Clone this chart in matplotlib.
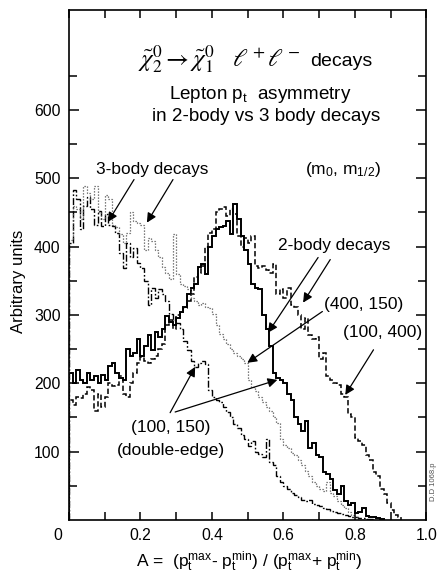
import numpy as np
import matplotlib
matplotlib.use("Agg")
import matplotlib.pyplot as plt
from matplotlib.transforms import ScaledTranslation

plt.rcParams['font.family'] = ['Liberation Sans', 'DejaVu Sans']
plt.rcParams['mathtext.fontset'] = 'custom'
plt.rcParams['mathtext.rm'] = 'Liberation Sans'
plt.rcParams['mathtext.it'] = 'Liberation Sans:italic'
plt.rcParams['mathtext.bf'] = 'Liberation Sans:bold'

# Histogram bins of the asymmetry A (width 0.01)
bin_width = 0.01

# 2-body decays, (m0, m1/2) = (100, 150)  -- solid
two_body_100_150 = [
    215, 200, 220, 205, 200, 215, 205, 210, 200, 212,
    205, 225, 230, 215, 208, 205, 250, 240, 245, 265,
    240, 255, 270, 248, 275, 268, 280, 298, 290, 285,
    295, 305, 312, 330, 340, 345, 370, 375, 360, 400,
    415, 425, 428, 430, 438, 418, 462, 440, 415, 395,
    375, 345, 340, 338, 300, 280, 255, 215, 208, 205,
    200, 185, 175, 150, 140, 130, 145, 105, 112, 95,
    92, 70, 68, 60, 44, 38, 50, 28, 22, 25,
    10, 12, 18, 6, 5, 4, 3, 2,
]

# 2-body decays, (m0, m1/2) = (100, 400)  -- dashed
two_body_100_400 = [
    175, 168, 180, 178, 185, 195, 190, 160, 185, 165,
    180, 200, 196, 198, 210, 185, 180, 200, 215, 230,
    238, 232, 230, 235, 240, 250, 258, 285, 292, 280,
    300, 305, 310, 320, 330, 355, 362, 372, 400, 420,
    425, 450, 455, 458, 445, 455, 448, 415, 400, 412,
    405, 415, 372, 368, 372, 365, 362, 375, 330, 338,
    325, 340, 315, 312, 300, 280, 295, 270, 265, 268,
    235, 245, 210, 205, 200, 198, 185, 180, 155, 150,
    120, 115, 110, 95, 88, 70, 65, 45, 38, 25,
    15, 8, 5,
]

# 3-body decays, (m0, m1/2) = (100, 150)  -- dash-dot
three_body_100_150 = [
    405, 483, 470, 425, 460, 472, 455, 432, 452, 430,
    448, 432, 430, 420, 390, 368, 405, 385, 398, 376,
    368, 350, 315, 340, 325, 338, 330, 320, 302, 292,
    288, 280, 262, 248, 232, 224, 230, 232, 228, 190,
    180, 175, 172, 165, 158, 150, 140, 135, 125, 118,
    108, 115, 100, 96, 92, 118, 85, 80, 65, 55,
    50, 46, 40, 36, 33, 30, 28, 29, 24, 22,
    20, 18, 16, 13, 12, 10, 9, 7, 6, 5,
    4, 3, 3, 2, 1,
]

# 3-body decays, (m0, m1/2) = (400, 150)  -- dotted
three_body_400_150 = [
    410, 460, 455, 440, 488, 478, 470, 488, 450, 440,
    475, 470, 432, 428, 418, 405, 420, 450, 438, 435,
    432, 395, 412, 408, 395, 385, 370, 362, 352, 418,
    360, 345, 342, 338, 325, 320, 315, 318, 312, 310,
    302, 285, 272, 265, 258, 250, 245, 240, 235, 230,
    205, 195, 188, 180, 172, 165, 160, 150, 142, 118,
    110, 105, 98, 95, 88, 80, 72, 65, 56, 50,
    45, 42, 55, 40, 35, 28, 22, 18, 12, 8,
    4,
]

x_ticks = [0.0, 0.2, 0.4, 0.6, 0.8, 1.0]
x_tick_labels = ['0', '0.2', '0.4', '0.6', '0.8', '1.0']
y_ticks = [100, 200, 300, 400, 500, 600]
y_tick_labels = ['100', '200', '300', '400', '500', '600']

fig = plt.figure(figsize=(4.38, 5.76), dpi=100)
ax = fig.add_axes([0.1575, 0.0972, 0.816, 0.8854])


def edges_for(values):
    return np.arange(len(values) + 1) * bin_width


ax.stairs(two_body_100_150, edges_for(two_body_100_150), color='black',
          lw=1.4, linestyle='-')
ax.stairs(two_body_100_400, edges_for(two_body_100_400), color='black',
          lw=1.1, linestyle=(0, (3.5, 1.8)))
ax.stairs(three_body_100_150, edges_for(three_body_100_150), color='black',
          lw=1.0, linestyle=(0, (5, 1.5, 1.2, 1.5)))
ax.stairs(three_body_400_150, edges_for(three_body_400_150), color='#555555',
          lw=0.9, linestyle=(0, (1, 1.4)))

ax.set_xlim(0, 1.0)
ax.set_ylim(0, 746)

ax.set_xticks(x_ticks)
ax.set_xticklabels(x_tick_labels)
ax.set_xticks(np.arange(0.1, 1.0, 0.2), minor=True)
ax.set_yticks(y_ticks)
ax.set_yticklabels(y_tick_labels)
ax.set_yticks(np.arange(50, 746, 100), minor=True)

ax.tick_params(which='both', direction='in', top=True, right=True,
               labelsize=11.3, width=1.1, pad=6)
ax.tick_params(which='major', length=7)
ax.tick_params(which='minor', length=6)
ax.tick_params(axis='x', which='both', length=6)
for side in ax.spines.values():
    side.set_linewidth(1.2)

# shift the shared origin label a little to the left
lbl0 = ax.get_xticklabels()[0]
lbl0.set_transform(lbl0.get_transform() + ScaledTranslation(-11 / 100, 0, fig.dpi_scale_trans))

# axis titles
ax.text(-0.14, 0.468, 'Arbitrary units', transform=ax.transAxes,
        rotation=90, ha='center', va='center', fontsize=12)
ax.text(0.505, -0.082,
        r'A =  (p$_\mathrm{t}^\mathrm{max}$- p$_\mathrm{t}^\mathrm{min}$) / '
        r'(p$_\mathrm{t}^\mathrm{max}$+ p$_\mathrm{t}^\mathrm{min}$)',
        transform=ax.transAxes, ha='center', va='center', fontsize=12.5)

# headline
ax.text(0.647, 664, r'$\tilde{\chi}^0_2 \rightarrow \tilde{\chi}^0_1\quad \ell^+\ell^-$',
        ha='right', va='baseline', fontsize=18, math_fontfamily='stix')
ax.text(0.675, 664, 'decays', ha='left', va='baseline', fontsize=14)
ax.text(0.535, 622, r'Lepton p$_\mathrm{t}$  asymmetry', ha='center', va='center',
        fontsize=13.6)
ax.text(0.552, 590, 'in 2-body vs 3 body decays', ha='center', va='center',
        fontsize=13.6)
ax.text(0.768, 512, r'(m$_0$, m$_{1/2}$)', ha='center', va='center', fontsize=12.5)

arrow_style = dict(arrowstyle='-|>', color='black', lw=0.9,
                   mutation_scale=14, shrinkA=0, shrinkB=0)

# 3-body labels
ax.text(0.234, 512, '3-body decays', ha='center', va='center', fontsize=12.4)
ax.annotate('', xy=(0.109, 436), xytext=(0.182, 498), arrowprops=arrow_style)
ax.annotate('', xy=(0.218, 435), xytext=(0.291, 498), arrowprops=arrow_style)

# 2-body labels
ax.text(0.742, 401, '2-body decays', ha='center', va='center', fontsize=12.4)
ax.annotate('', xy=(0.557, 274), xytext=(0.697, 384), arrowprops=arrow_style)
ax.annotate('', xy=(0.655, 318), xytext=(0.731, 381), arrowprops=arrow_style)

# mass point labels
ax.text(0.824, 315, '(400, 150)', ha='center', va='center', fontsize=12.5)
ax.annotate('', xy=(0.499, 230), xytext=(0.709, 305), arrowprops=arrow_style)

ax.text(0.877, 274, '(100, 400)', ha='center', va='center', fontsize=12.5)
ax.annotate('', xy=(0.773, 183), xytext=(0.852, 249), arrowprops=arrow_style)

ax.text(0.285, 135, '(100, 150)', ha='center', va='center', fontsize=12.5)
ax.text(0.285, 101, '(double-edge)', ha='center', va='center', fontsize=12.5)
ax.annotate('', xy=(0.353, 224), xytext=(0.283, 157), arrowprops=arrow_style)
ax.annotate('', xy=(0.583, 205), xytext=(0.297, 158), arrowprops=arrow_style)

ax.text(1.02, 0.076, 'D.D 1068.p', transform=ax.transAxes, rotation=90,
        ha='center', va='center', fontsize=5.5, color='#555555')

fig.savefig('out.png', dpi=100)
